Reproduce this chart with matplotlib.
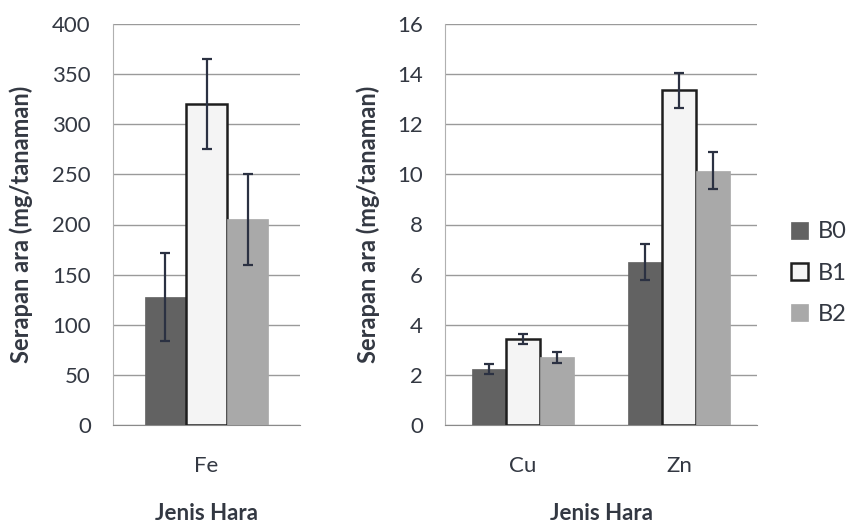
import matplotlib
matplotlib.use("Agg")
import matplotlib.pyplot as plt
import numpy as np

plt.rcParams['font.family'] = ['Lato', 'DejaVu Sans']

series = ["B0", "B1", "B2"]
left_cats = ["Fe"]
left_vals = {"B0": [128], "B1": [320], "B2": [205]}
left_err = {"B0": [44], "B1": [45], "B2": [45]}
right_cats = ["Cu", "Zn"]
right_vals = {"B0": [2.25, 6.5], "B1": [3.42, 13.35], "B2": [2.7, 10.15]}
right_err = {"B0": [0.2, 0.72], "B1": [0.2, 0.7], "B2": [0.22, 0.73]}
left_yticks = [0, 50, 100, 150, 200, 250, 300, 350, 400]
right_yticks = [0, 2, 4, 6, 8, 10, 12, 14, 16]

colors = {"B0": "#626262", "B1": "#f4f4f4", "B2": "#a9a9a9"}
edges = {"B0": "#626262", "B1": "#1e1e1e", "B2": "#a9a9a9"}
err_color = "#2b3142"
text_color = "#333842"

fig = plt.figure(figsize=(8.57, 5.25), dpi=100)
ax1 = fig.add_axes([113/857, 100/525, 187/857, 401/525])
ax2 = fig.add_axes([445/857, 100/525, 312/857, 401/525])

def draw(ax, cats, vals, errs, yticks, label_x):
    x = np.arange(len(cats))
    w = 0.22
    handles = []
    for i, s in enumerate(series):
        h = ax.bar(x + (i - 1) * w, vals[s], w, color=colors[s],
                   edgecolor=edges[s], linewidth=1.8 if s == "B1" else 0.5,
                   yerr=errs[s], capsize=3.5,
                   error_kw=dict(ecolor=err_color, elinewidth=1.6, capthick=1.6),
                   label=s, zorder=3)
        handles.append(h)
    ax.set_xlim(-0.5, len(cats) - 0.5)
    ax.set_ylim(yticks[0], yticks[-1])
    ax.set_yticks(yticks)
    ax.set_xticks(x)
    ax.set_xticklabels(cats)
    ax.yaxis.grid(True, color="#9a9a9a", linewidth=1.0, zorder=0)
    ax.set_axisbelow(True)
    for sp in ["top", "right"]:
        ax.spines[sp].set_visible(False)
    ax.spines["left"].set_color("#b0b0b0")
    ax.spines["bottom"].set_color("#8a8a8a")
    ax.tick_params(axis="both", length=0, labelsize=16, colors=text_color)
    ax.tick_params(axis="y", pad=16)
    ax.tick_params(axis="x", pad=22)
    ax.set_ylabel("Serapan ara (mg/tanaman)", fontsize=17, fontweight="bold",
                  color=text_color)
    ax.yaxis.set_label_coords(label_x, 0.5)
    ax.set_xlabel("Jenis Hara", fontsize=16, fontweight="bold",
                  color=text_color, labelpad=20)
    return handles

draw(ax1, left_cats, left_vals, left_err, left_yticks, (33 - 113) / 187)
handles = draw(ax2, right_cats, right_vals, right_err, right_yticks, (380 - 445) / 312)

leg = fig.legend(handles, series, loc="center left", bbox_to_anchor=(786/857, 1 - 273/525),
                 frameon=False, fontsize=17, handlelength=0.75, handleheight=0.75,
                 handletextpad=0.4, labelspacing=0.85, labelcolor=text_color,
                 borderpad=0.2, borderaxespad=0)

fig.savefig("out.png", dpi=100)
